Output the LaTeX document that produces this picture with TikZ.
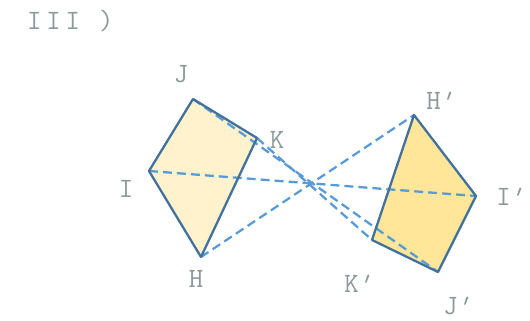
\documentclass[tikz,border=0pt]{standalone}
\usepackage{fontspec}
\setmonofont{Latin Modern Mono}
\newfontfamily\titlefont[LetterSpace=17]{Latin Modern Mono}
\newfontfamily\primefont[FakeSlant=0.35]{Latin Modern Mono}
\newcommand{\pr}{{\primefont\kern-0.12em'}}
\usepackage{xcolor}
\definecolor{edgeblue}{HTML}{41719C}
\definecolor{dashblue}{HTML}{5B9BD5}
\definecolor{paleyellow}{HTML}{FFF2CC}
\definecolor{deepyellow}{HTML}{FFE699}
\definecolor{labelgray}{HTML}{8C9999}

\begin{document}
\begin{tikzpicture}[
  x=1pt, y=-1pt,
  quad/.style={draw=edgeblue,line width=2.3pt,line join=round},  ray/.style={draw=dashblue,line width=2.3pt,dash pattern=on 9pt off 5pt},  lbl/.style={text=labelgray,inner sep=0pt,font=\ttfamily\fontsize{28}{30}\selectfont}
]
  \useasboundingbox (0,0) rectangle (530,321);
  \coordinate (vJ) at (193,99);
  \coordinate (vK) at (257,138);
  \coordinate (vI) at (149,171);
  \coordinate (vH) at (201,257);
  \coordinate (wH) at (414,115);
  \coordinate (wI) at (476,196);
  \coordinate (wJ) at (438,272);
  \coordinate (wK) at (372,240);
  \fill[paleyellow] (vJ) -- (vK) -- (vH) -- (vI) -- cycle;
  \fill[deepyellow] (wH) -- (wI) -- (wJ) -- (wK) -- cycle;
  \draw[ray] (vJ) -- (wJ);
  \draw[ray] (vK) -- (wK);
  \draw[ray] (vI) -- (wI);
  \draw[ray] (vH) -- (wH);
  \draw[quad] (vJ) -- (vK) -- (vH) -- (vI) -- cycle;
  \draw[quad] (wH) -- (wI) -- (wJ) -- (wK) -- cycle;
  \node[lbl,font=\titlefont\fontsize{28}{30}\selectfont,anchor=west] (title) at (27,21) {III )};
  \node[lbl] (lJ) at (181,74) {J};
  \node[lbl] (lK) at (277,140) {K};
  \node[lbl] (lI) at (126,189) {I};
  \node[lbl] (lH) at (196,279) {H};
  \node[lbl] (lHp) at (439,101) {H\pr};
  \node[lbl] (lIp) at (509,197) {I\pr};
  \node[lbl] (lKp) at (357,284) {K\pr};
  \node[lbl] (lJp) at (456,306) {J\pr};
\end{tikzpicture}
\end{document}
